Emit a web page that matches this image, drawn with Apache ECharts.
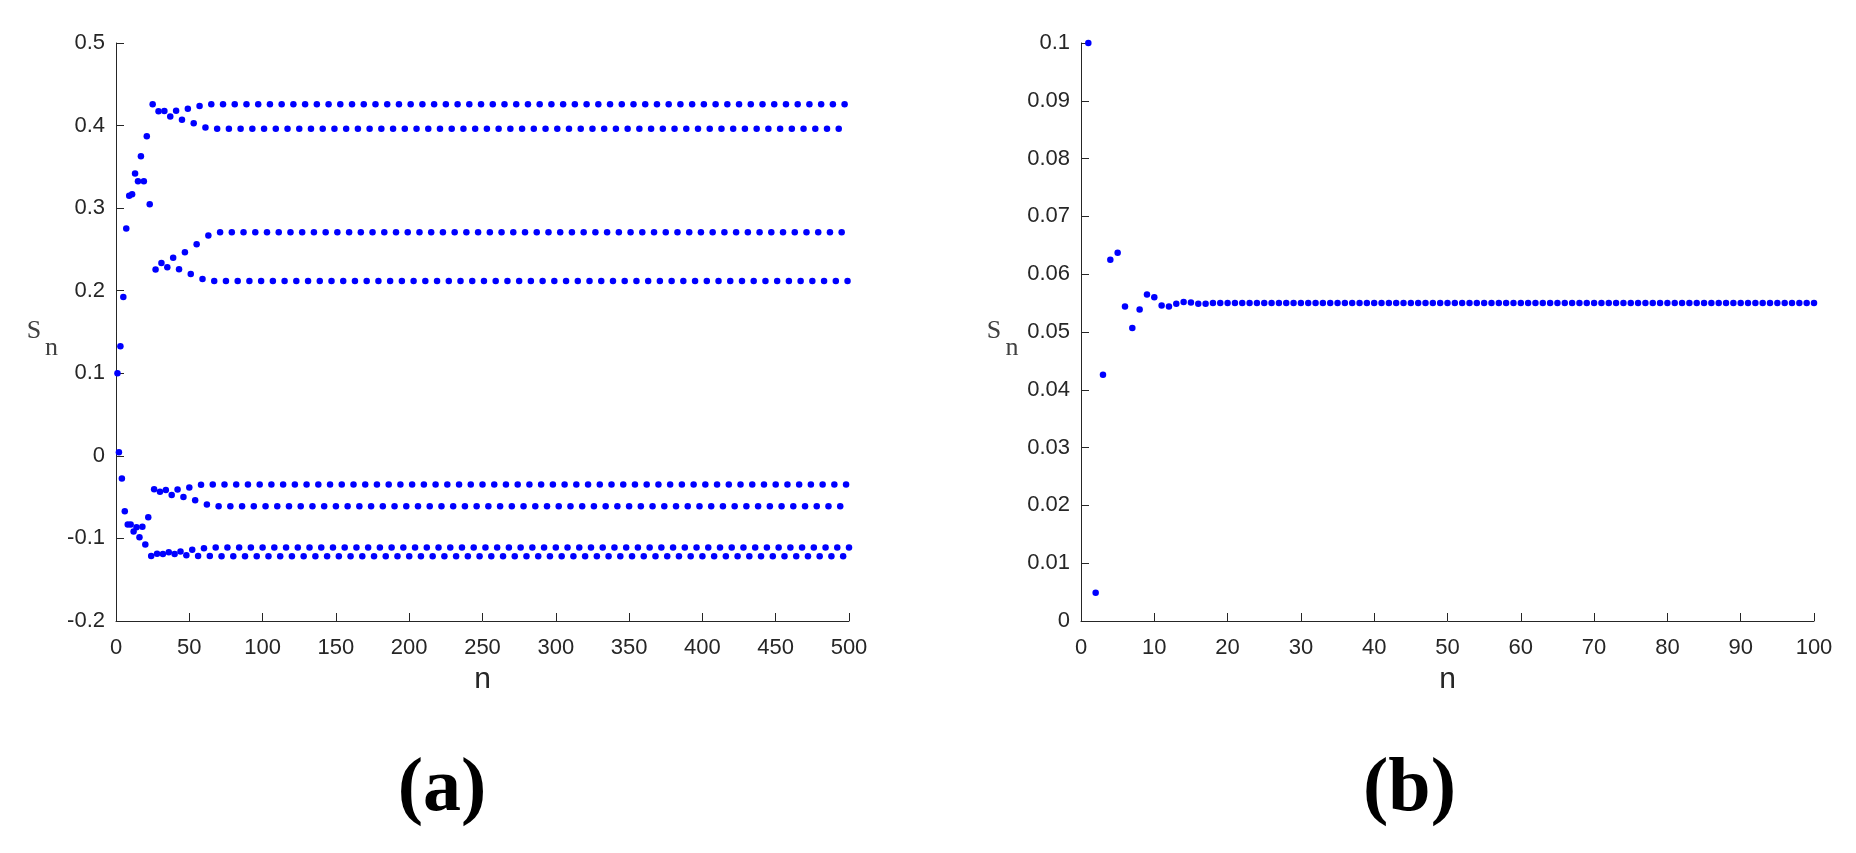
<!DOCTYPE html>
<html>
<head>
<meta charset="utf-8">
<script src="https://cdn.jsdelivr.net/npm/echarts@6/dist/echarts.min.js"></script>
<style>
html,body{margin:0;padding:0;background:#fff;}
#chart{width:1856px;height:853px;}
</style>
</head>
<body>
<div id="chart"></div>
<script>
// ---- Panel (a): S_n for n = 1..500 ----
const sA_transient = [ // n = 1..64
  0.1, 0.0044, 0.1327, -0.0275, 0.1925, -0.067, 0.2752, -0.083,
  0.315, -0.083, 0.3167, -0.0917, 0.342, -0.0864, 0.3325, -0.0986,
  0.3627, -0.086, 0.3325, -0.1074, 0.387, -0.0743, 0.3046, -0.1212,
  0.4257, -0.0404, 0.2256, -0.1187, 0.4172, -0.0436, 0.2337, -0.119,
  0.4177, -0.0415, 0.2283, -0.1167, 0.4111, -0.0473, 0.240, -0.119,
  0.418, -0.0408, 0.2259, -0.1158, 0.4072, -0.0497, 0.2465, -0.1203,
  0.4205, -0.0384, 0.2203, -0.1138, 0.4027, -0.0537, 0.2562, -0.1212,
  0.4237, -0.0351, 0.2143, -0.112, 0.3978, -0.059, 0.267, -0.1212
];
const sA_settled = [ // n = 65..500
  0.4257, -0.0347, 0.2119, -0.111, 0.3963, -0.061, 0.2707, -0.1215, 0.4257, -0.0347, 0.2119, -0.111, 0.3963, -0.061, 0.2707, -0.1215,
  0.4257, -0.0347, 0.2119, -0.111, 0.3963, -0.061, 0.2707, -0.1215, 0.4257, -0.0347, 0.2119, -0.111, 0.3963, -0.061, 0.2707, -0.1215,
  0.4257, -0.0347, 0.2119, -0.111, 0.3963, -0.061, 0.2707, -0.1215, 0.4257, -0.0347, 0.2119, -0.111, 0.3963, -0.061, 0.2707, -0.1215,
  0.4257, -0.0347, 0.2119, -0.111, 0.3963, -0.061, 0.2707, -0.1215, 0.4257, -0.0347, 0.2119, -0.111, 0.3963, -0.061, 0.2707, -0.1215,
  0.4257, -0.0347, 0.2119, -0.111, 0.3963, -0.061, 0.2707, -0.1215, 0.4257, -0.0347, 0.2119, -0.111, 0.3963, -0.061, 0.2707, -0.1215,
  0.4257, -0.0347, 0.2119, -0.111, 0.3963, -0.061, 0.2707, -0.1215, 0.4257, -0.0347, 0.2119, -0.111, 0.3963, -0.061, 0.2707, -0.1215,
  0.4257, -0.0347, 0.2119, -0.111, 0.3963, -0.061, 0.2707, -0.1215, 0.4257, -0.0347, 0.2119, -0.111, 0.3963, -0.061, 0.2707, -0.1215,
  0.4257, -0.0347, 0.2119, -0.111, 0.3963, -0.061, 0.2707, -0.1215, 0.4257, -0.0347, 0.2119, -0.111, 0.3963, -0.061, 0.2707, -0.1215,
  0.4257, -0.0347, 0.2119, -0.111, 0.3963, -0.061, 0.2707, -0.1215, 0.4257, -0.0347, 0.2119, -0.111, 0.3963, -0.061, 0.2707, -0.1215,
  0.4257, -0.0347, 0.2119, -0.111, 0.3963, -0.061, 0.2707, -0.1215, 0.4257, -0.0347, 0.2119, -0.111, 0.3963, -0.061, 0.2707, -0.1215,
  0.4257, -0.0347, 0.2119, -0.111, 0.3963, -0.061, 0.2707, -0.1215, 0.4257, -0.0347, 0.2119, -0.111, 0.3963, -0.061, 0.2707, -0.1215,
  0.4257, -0.0347, 0.2119, -0.111, 0.3963, -0.061, 0.2707, -0.1215, 0.4257, -0.0347, 0.2119, -0.111, 0.3963, -0.061, 0.2707, -0.1215,
  0.4257, -0.0347, 0.2119, -0.111, 0.3963, -0.061, 0.2707, -0.1215, 0.4257, -0.0347, 0.2119, -0.111, 0.3963, -0.061, 0.2707, -0.1215,
  0.4257, -0.0347, 0.2119, -0.111, 0.3963, -0.061, 0.2707, -0.1215, 0.4257, -0.0347, 0.2119, -0.111, 0.3963, -0.061, 0.2707, -0.1215,
  0.4257, -0.0347, 0.2119, -0.111, 0.3963, -0.061, 0.2707, -0.1215, 0.4257, -0.0347, 0.2119, -0.111, 0.3963, -0.061, 0.2707, -0.1215,
  0.4257, -0.0347, 0.2119, -0.111, 0.3963, -0.061, 0.2707, -0.1215, 0.4257, -0.0347, 0.2119, -0.111, 0.3963, -0.061, 0.2707, -0.1215,
  0.4257, -0.0347, 0.2119, -0.111, 0.3963, -0.061, 0.2707, -0.1215, 0.4257, -0.0347, 0.2119, -0.111, 0.3963, -0.061, 0.2707, -0.1215,
  0.4257, -0.0347, 0.2119, -0.111, 0.3963, -0.061, 0.2707, -0.1215, 0.4257, -0.0347, 0.2119, -0.111, 0.3963, -0.061, 0.2707, -0.1215,
  0.4257, -0.0347, 0.2119, -0.111, 0.3963, -0.061, 0.2707, -0.1215, 0.4257, -0.0347, 0.2119, -0.111, 0.3963, -0.061, 0.2707, -0.1215,
  0.4257, -0.0347, 0.2119, -0.111, 0.3963, -0.061, 0.2707, -0.1215, 0.4257, -0.0347, 0.2119, -0.111, 0.3963, -0.061, 0.2707, -0.1215,
  0.4257, -0.0347, 0.2119, -0.111, 0.3963, -0.061, 0.2707, -0.1215, 0.4257, -0.0347, 0.2119, -0.111, 0.3963, -0.061, 0.2707, -0.1215,
  0.4257, -0.0347, 0.2119, -0.111, 0.3963, -0.061, 0.2707, -0.1215, 0.4257, -0.0347, 0.2119, -0.111, 0.3963, -0.061, 0.2707, -0.1215,
  0.4257, -0.0347, 0.2119, -0.111, 0.3963, -0.061, 0.2707, -0.1215, 0.4257, -0.0347, 0.2119, -0.111, 0.3963, -0.061, 0.2707, -0.1215,
  0.4257, -0.0347, 0.2119, -0.111, 0.3963, -0.061, 0.2707, -0.1215, 0.4257, -0.0347, 0.2119, -0.111, 0.3963, -0.061, 0.2707, -0.1215,
  0.4257, -0.0347, 0.2119, -0.111, 0.3963, -0.061, 0.2707, -0.1215, 0.4257, -0.0347, 0.2119, -0.111, 0.3963, -0.061, 0.2707, -0.1215,
  0.4257, -0.0347, 0.2119, -0.111, 0.3963, -0.061, 0.2707, -0.1215, 0.4257, -0.0347, 0.2119, -0.111, 0.3963, -0.061, 0.2707, -0.1215,
  0.4257, -0.0347, 0.2119, -0.111, 0.3963, -0.061, 0.2707, -0.1215, 0.4257, -0.0347, 0.2119, -0.111, 0.3963, -0.061, 0.2707, -0.1215,
  0.4257, -0.0347, 0.2119, -0.111
];

// ---- Panel (b): S_n for n = 1..100 ----
const sB = [
  0.1, 0.0049, 0.0426, 0.0625, 0.0637, 0.0544, 0.0507, 0.0539, 0.0565, 0.056,
  0.0546, 0.0544, 0.0549, 0.0552, 0.0551, 0.0549, 0.0549, 0.055, 0.055, 0.055,
  0.055, 0.055, 0.055, 0.055, 0.055, 0.055, 0.055, 0.055, 0.055, 0.055,
  0.055, 0.055, 0.055, 0.055, 0.055, 0.055, 0.055, 0.055, 0.055, 0.055,
  0.055, 0.055, 0.055, 0.055, 0.055, 0.055, 0.055, 0.055, 0.055, 0.055,
  0.055, 0.055, 0.055, 0.055, 0.055, 0.055, 0.055, 0.055, 0.055, 0.055,
  0.055, 0.055, 0.055, 0.055, 0.055, 0.055, 0.055, 0.055, 0.055, 0.055,
  0.055, 0.055, 0.055, 0.055, 0.055, 0.055, 0.055, 0.055, 0.055, 0.055,
  0.055, 0.055, 0.055, 0.055, 0.055, 0.055, 0.055, 0.055, 0.055, 0.055,
  0.055, 0.055, 0.055, 0.055, 0.055, 0.055, 0.055, 0.055, 0.055, 0.055
];

// axis settings (ticks)
const xTicksA = {min: 0, max: 500, interval: 50};
const yTicksA = {min: -0.2, max: 0.5, interval: 0.1};
const xTicksB = {min: 0, max: 100, interval: 10};
const yTicksB = {min: 0, max: 0.1, interval: 0.01};
const xLabel = 'n';
const panelLabels = ['(a)', '(b)'];

const sA = sA_transient.concat(sA_settled);
const dataA = sA.map((v, i) => [i + 1, v]);
const dataB = sB.map((v, i) => [i + 1, v]);

const axisColor = '#262626';
const tickFont = {fontFamily: 'Liberation Sans', fontSize: 22, color: axisColor};

function xAxisCfg(idx, t) {
  return {
    type: 'value', gridIndex: idx, min: t.min, max: t.max, interval: t.interval,
    axisLine: {show: true, onZero: false, lineStyle: {color: axisColor, width: 1}},
    axisTick: {show: true, inside: true, length: 8, lineStyle: {color: axisColor, width: 1}},
    axisLabel: Object.assign({margin: 16}, tickFont),
    splitLine: {show: false}
  };
}
function yAxisCfg(idx, t) {
  return {
    type: 'value', gridIndex: idx, min: t.min, max: t.max, interval: t.interval,
    axisLine: {show: true, onZero: false, lineStyle: {color: axisColor, width: 1}},
    axisTick: {show: true, inside: true, length: 8, lineStyle: {color: axisColor, width: 1}},
    axisLabel: Object.assign({margin: 11}, tickFont),
    splitLine: {show: false}
  };
}

const chart = echarts.init(document.getElementById('chart'), null, {renderer: 'canvas'});

function txt(text, x, y, font, color, align) {
  return {
    type: 'text', x: x, y: y, silent: true,
    style: {text: text, font: font, fill: color, textAlign: align || 'center', textVerticalAlign: 'middle'}
  };
}

chart.setOption({
  backgroundColor: '#ffffff',
  animation: false,
  grid: [
    {left: 116, right: 1007, top: 43, bottom: 232},
    {left: 1081, right: 42, top: 43, bottom: 232}
  ],
  xAxis: [xAxisCfg(0, xTicksA), xAxisCfg(1, xTicksB)],
  yAxis: [yAxisCfg(0, yTicksA), yAxisCfg(1, yTicksB)],
  series: [
    {type: 'scatter', xAxisIndex: 0, yAxisIndex: 0, data: dataA, symbol: 'circle', symbolSize: 6.5,
     itemStyle: {color: '#0000ff', opacity: 1}},
    {type: 'scatter', xAxisIndex: 1, yAxisIndex: 1, data: dataB, symbol: 'circle', symbolSize: 6.5,
     itemStyle: {color: '#0000ff', opacity: 1}}
  ],
  graphic: [
    // y-axis labels S_n
    txt('S', 34, 331, '26px "Liberation Serif"', '#404040'),
    txt('n', 51.5, 348, '26px "Liberation Serif"', '#404040'),
    txt('S', 994, 331, '26px "Liberation Serif"', '#404040'),
    txt('n', 1012, 348, '26px "Liberation Serif"', '#404040'),
    // x-axis labels
    txt(xLabel, 482.5, 680, '30px "Liberation Sans"', axisColor),
    txt(xLabel, 1447.5, 680, '30px "Liberation Sans"', axisColor),
    // panel captions
    txt(panelLabels[0], 442, 790, 'bold 76px "Liberation Serif"', '#000000'),
    txt(panelLabels[1], 1409.5, 790, 'bold 76px "Liberation Serif"', '#000000')
  ]
});
</script>
</body>
</html>
